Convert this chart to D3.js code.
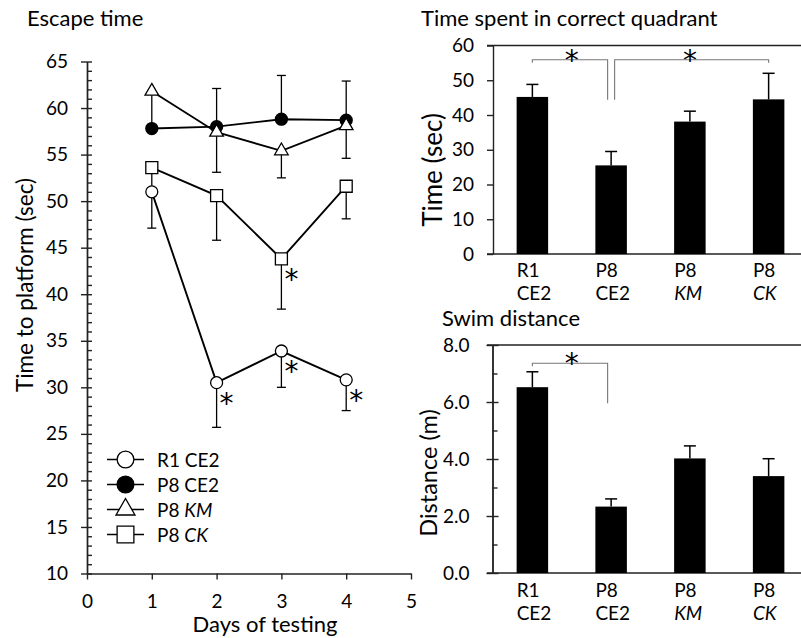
<!DOCTYPE html>
<html>
<head>
<meta charset="utf-8">
<script src="https://cdn.jsdelivr.net/npm/d3@7"></script>
<style>
body { margin: 0; background: #fff; }
text { font-family: Lato, "Open Sans", sans-serif; fill: #000; }
text.star { font-family: "DejaVu Sans", sans-serif; }
</style>
</head>
<body>
<script>
const width = 801, height = 638;

// escape time (sec), days 1-4
const days = [1, 2, 3, 4];
const r1ce2 = [51.0, 30.5, 33.9, 30.8];
const r1ce2Err = [3.9, 4.8, 3.9, 3.3];
const p8ce2 = [57.8, 58.0, 58.8, 58.7];
const p8ce2Err = [0, 4.1, 4.7, 4.2];
const p8km = [61.8, 57.4, 55.4, 58.1];
const p8kmErr = [3.9, 4.3, 2.9, 3.5];
const p8ck = [53.6, 50.6, 43.8, 51.6];
const p8ckErr = [2.2, 4.8, 5.4, 3.5];
const escapeStars = [["R1 CE2", 2], ["R1 CE2", 3], ["R1 CE2", 4], ["P8 CK", 3]];

// bar charts
const groups = ["R1 CE2", "P8 CE2", "P8 KM", "P8 CK"];
const groupLine1 = ["R1", "P8", "P8", "P8"];
const groupLine2 = ["CE2", "CE2", "KM", "CK"];
const quadrantTime = [45.2, 25.5, 38.1, 44.5];
const quadrantErr = [3.6, 4.0, 3.0, 7.5];
const swimDist = [6.52, 2.33, 4.02, 3.40];
const swimErr = [0.54, 0.27, 0.44, 0.61];
// brackets: long leg at "from", short at "to"
const quadBrackets = [["P8 CE2", "R1 CE2", 55.9, 44.4], ["P8 CE2", "P8 CK", 55.9, 44.4]];
const swimBrackets = [["P8 CE2", "R1 CE2", 7.36, 5.96]];

const svg = d3.select('body')
    .append('svg')
    .attr('width', width)
    .attr('height', height)
    .attr('viewBox', [0, 0, width, height]);

function styleAxis(g, size) {
    g.attr('font-family', 'Lato, sans-serif').attr('font-size', size);
    g.selectAll('path, line').attr('stroke', '#222').attr('stroke-width', 1.4);
    g.selectAll('text').attr('fill', '#000');
}

// ---------------- Escape time ----------------
const x = d3.scaleLinear().domain([0, 5]).range([87, 411]);
const y = d3.scaleLinear().domain([10, 65]).range([573.5, 61.5]);

svg.append('text').attr('x', 27).attr('y', 26).attr('font-size', 22).text('Escape time');

svg.append('g').attr('transform', 'translate(0,573.5)')
    .call(d3.axisBottom(x).ticks(5).tickSize(6).tickSizeOuter(0).tickPadding(15))
    .call(g => styleAxis(g, 19));
svg.append('g').attr('transform', 'translate(87,0)')
    .call(d3.axisLeft(y).tickValues(d3.range(10, 66, 5)).tickSize(6).tickSizeOuter(0).tickPadding(13))
    .call(g => styleAxis(g, 19));
svg.append('g').attr('transform', 'translate(87,0)')
    .call(d3.axisRight(y).tickValues(d3.range(10, 66, 1)).tickSize(5).tickFormat('').tickSizeOuter(0))
    .call(g => styleAxis(g, 19));

svg.append('text').attr('transform', 'translate(24,285) rotate(-90)')
    .attr('text-anchor', 'middle').attr('dominant-baseline', 'central')
    .attr('font-size', 22.5).text('Time to platform (sec)');
svg.append('text').attr('x', 265).attr('y', 632).attr('text-anchor', 'middle')
    .attr('font-size', 22).text('Days of testing');

const series = [
    {name: "P8 CK", label: ["P8 ", "CK"], v: p8ck, e: p8ckErr, dir: -1, type: d3.symbolSquare, size: 144, fill: '#fff'},
    {name: "R1 CE2", label: ["R1 CE2", ""], v: r1ce2, e: r1ce2Err, dir: -1, type: d3.symbolCircle, size: 113, fill: '#fff'},
    {name: "P8 CE2", label: ["P8 CE2", ""], v: p8ce2, e: p8ce2Err, dir: 1, type: d3.symbolCircle, size: 113, fill: '#000'},
    {name: "P8 KM", label: ["P8 ", "KM"], v: p8km, e: p8kmErr, dir: -1, type: d3.symbolTriangle, size: 80, fill: '#fff'}
];

const line = d3.line().x((d, i) => x(days[i])).y(d => y(d));

series.forEach(s => {
    const eb = svg.append('g').attr('stroke', '#000').attr('stroke-width', 1.3);
    s.v.forEach((v, i) => {
        if (!s.e[i]) return;
        const y2 = y(v + s.dir * s.e[i]);
        eb.append('line').attr('x1', x(days[i])).attr('x2', x(days[i])).attr('y1', y(v)).attr('y2', y2);
        eb.append('line').attr('x1', x(days[i]) - 4.5).attr('x2', x(days[i]) + 4.5).attr('y1', y2).attr('y2', y2);
    });
});
series.forEach(s => {
    svg.append('path').datum(s.v).attr('d', line)
        .attr('fill', 'none').attr('stroke', '#000').attr('stroke-width', 1.9);
});
series.forEach(s => {
    svg.append('g').selectAll('path').data(s.v).enter().append('path')
        .attr('transform', (d, i) => `translate(${x(days[i])},${y(d)})`)
        .attr('d', d3.symbol().type(s.type).size(s.size))
        .attr('fill', s.fill).attr('stroke', '#000').attr('stroke-width', 1.3);
});

svg.append('g').selectAll('text').data(escapeStars).enter().append('text')
    .attr('class', 'star')
    .attr('x', d => x(d[1]) + 10)
    .attr('y', d => {
        const s = series.find(t => t.name === d[0]);
        return y(s.v[days.indexOf(d[1])]) + 30;
    })
    .attr('text-anchor', 'middle').attr('font-size', 28).text('*');

// legend
const legendOrder = ["R1 CE2", "P8 CE2", "P8 KM", "P8 CK"];
const leg = svg.append('g');
legendOrder.forEach((name, i) => {
    const s = series.find(t => t.name === name);
    const ly = 459.5 + i * 25;
    leg.append('line').attr('x1', 107).attr('x2', 144).attr('y1', ly).attr('y2', ly)
        .attr('stroke', '#000').attr('stroke-width', 1.5);
    leg.append('path').attr('transform', `translate(125.5,${ly})`)
        .attr('d', d3.symbol().type(s.type).size(s.size * 1.95))
        .attr('fill', s.fill).attr('stroke', '#000').attr('stroke-width', 1.3);
    const t = leg.append('text').attr('x', 157).attr('y', ly + 7).attr('font-size', 19);
    t.append('tspan').text(s.label[0]);
    if (s.label[1]) t.append('tspan').attr('font-style', 'italic').text(s.label[1]);
});

// ---------------- bar charts ----------------
const xb = d3.scaleBand().domain(groups).range([493, 808]).paddingInner(0.6).paddingOuter(0.3);

function barChart(cfg) {
    const g = svg.append('g');
    const yy = cfg.y;
    g.append('text').attr('x', cfg.titleX).attr('y', cfg.titleY).attr('font-size', 22).text(cfg.title);

    // frame lines top and bottom
    [yy.domain()[0], yy.domain()[1]].forEach(v => {
        g.append('line').attr('x1', 487).attr('x2', 801).attr('y1', yy(v)).attr('y2', yy(v))
            .attr('stroke', '#222').attr('stroke-width', 1.4);
    });
    g.append('g').attr('transform', `translate(${cfg.axisX},0)`)
        .call(d3.axisLeft(yy).tickValues(cfg.ticks).tickSize(6).tickSizeOuter(0)
            .tickPadding(cfg.pad).tickFormat(cfg.fmt))
        .call(a => styleAxis(a, 19));
    if (cfg.minor) {
        g.append('g').attr('transform', `translate(${cfg.axisX},0)`)
            .call(d3.axisRight(yy).tickValues(cfg.minor).tickSize(5).tickFormat('').tickSizeOuter(0))
            .call(a => styleAxis(a, 19));
        g.append('g').attr('transform', `translate(${cfg.axisX},0)`)
            .call(d3.axisRight(yy).tickValues(cfg.ticks).tickSize(6).tickFormat('').tickSizeOuter(0))
            .call(a => { styleAxis(a, 19); a.select('.domain').remove(); });
    }

    g.append('g').selectAll('rect').data(cfg.values).enter().append('rect')
        .attr('x', (d, i) => xb(groups[i]))
        .attr('width', xb.bandwidth())
        .attr('y', d => yy(d))
        .attr('height', d => yy(0) - yy(d))
        .attr('fill', '#000');

    const eb = g.append('g').attr('stroke', '#000').attr('stroke-width', 1.5);
    cfg.values.forEach((v, i) => {
        const cx = xb(groups[i]) + xb.bandwidth() / 2;
        const y2 = yy(v + cfg.err[i]);
        eb.append('line').attr('x1', cx).attr('x2', cx).attr('y1', yy(v)).attr('y2', y2);
        eb.append('line').attr('x1', cx - 6).attr('x2', cx + 6).attr('y1', y2).attr('y2', y2);
    });

    const br = g.append('g').attr('fill', 'none').attr('stroke', '#777').attr('stroke-width', 1.1);
    cfg.brackets.forEach(b => {
        const xf = xb(b[0]) + xb.bandwidth() / 2, xt = xb(b[1]) + xb.bandwidth() / 2;
        const xfo = xf + (xt > xf ? 3.5 : -3.5);
        const lvl = yy(b[2]);
        br.append('path').attr('d', `M${xfo},${yy(b[3])}V${lvl}H${xt}v3`);
        g.append('text').attr('class', 'star').attr('x', (xf + xt) / 2).attr('y', lvl + 10)
            .attr('text-anchor', 'middle').attr('font-size', 28).text('*');
    });

    groups.forEach((gname, i) => {
        const t = g.append('text').attr('x', xb(gname)).attr('y', cfg.labelY).attr('font-size', 19);
        t.append('tspan').attr('x', xb(gname)).text(groupLine1[i]);
        t.append('tspan').attr('x', xb(gname)).attr('dy', 23)
            .attr('font-style', i >= 2 ? 'italic' : 'normal').text(groupLine2[i]);
    });

    g.append('text').attr('transform', `translate(${cfg.yTitleX},${cfg.yTitleY}) rotate(-90)`)
        .attr('text-anchor', 'middle').attr('dominant-baseline', 'central')
        .attr('font-size', cfg.yTitleSize).text(cfg.yTitle);
}

barChart({
    title: 'Time spent in correct quadrant', titleX: 421, titleY: 26,
    y: d3.scaleLinear().domain([0, 60]).range([254, 45.5]),
    axisX: 493, ticks: d3.range(0, 61, 10), pad: 13, fmt: d3.format('d'),
    values: quadrantTime, err: quadrantErr, brackets: quadBrackets,
    labelY: 277, yTitle: 'Time (sec)', yTitleX: 432, yTitleY: 170, yTitleSize: 26
});
barChart({
    title: 'Swim distance', titleX: 442, titleY: 326,
    y: d3.scaleLinear().domain([0, 8]).range([573, 345]),
    axisX: 492.5, ticks: d3.range(0, 9, 2), minor: [1, 3, 5, 7], pad: 17, fmt: d3.format('.1f'),
    values: swimDist, err: swimErr, brackets: swimBrackets,
    labelY: 597, yTitle: 'Distance (m)', yTitleX: 428, yTitleY: 473, yTitleSize: 23.5
});
</script>
</body>
</html>
